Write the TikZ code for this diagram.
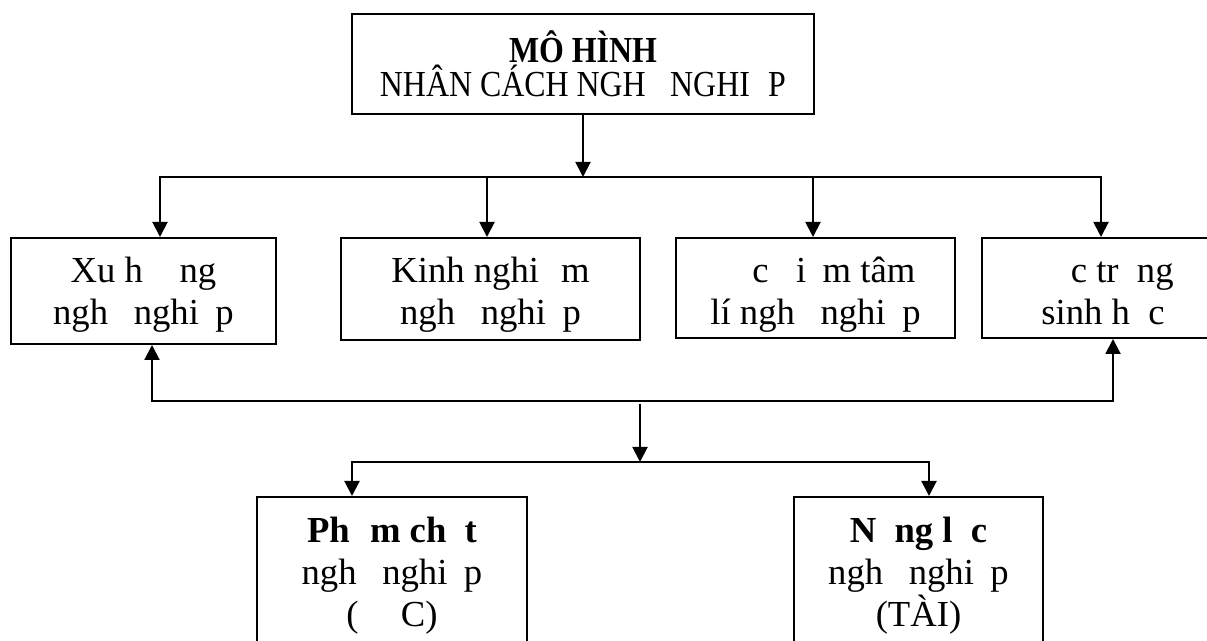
\documentclass[tikz,border=0pt]{standalone}
\usepackage{fontspec}
\setmainfont{Liberation Serif}
\newfontfamily\hepfont[FakeStretch=0.87]{Liberation Serif}
\usetikzlibrary{arrows.meta}
\newcommand{\gapw}[1]{\hspace*{#1em}}

\begin{document}
\begin{tikzpicture}[x=0.3pt,y=-0.3pt,line width=0.6pt,
  hop/.style={draw,align=center,inner sep=0pt,font=\fontsize{11}{12.6}\selectfont},
  mui/.style={-{Triangle[length=4.5pt,width=4.5pt]}},
  haimui/.style={{Triangle[length=4.5pt,width=4.5pt]}-{Triangle[length=4.5pt,width=4.5pt]}}]

  \useasboundingbox (0,0) rectangle (1207,641);
  \clip (0,0) rectangle (1207,641);

  % top box
  \node[hop,minimum width=138.6pt,minimum height=30pt,
    font={\hepfont\fontsize{11}{10.2}\selectfont\lineskiplimit=-\maxdimen}] (mohinh) at (583,64)
    {\textbf{MÔ HÌNH}\\NHÂN CÁCH NGH\gapw{0.45} NGHI\gapw{0.5}P};

  % second row
  \node[hop,minimum width=79.5pt,minimum height=31.8pt,text height=22.8pt,text depth=2.4pt] (xuhuong) at (143.5,291)
    {Xu h\gapw{1}ng\\ngh\gapw{0.45} nghi\gapw{0.45}p};
  \node[hop,minimum width=89.7pt,minimum height=30.6pt,text height=24pt,text depth=2.4pt] (kinhnghiem) at (490.5,289)
    {Kinh nghi\gapw{0.6}m\\ngh\gapw{0.45} nghi\gapw{0.45}p};
  \node[hop,minimum width=83.7pt,minimum height=30pt,text height=24.6pt,text depth=2.4pt] (dacdiem) at (815.5,288)
    {\gapw{1}c \gapw{0.5}i\gapw{0.45}m tâm\\lí ngh\gapw{0.45} nghi\gapw{0.45}p};
  \node[hop,minimum width=72.6pt,minimum height=30pt,text height=24.6pt,text depth=2.4pt] (dactrung) at (1103,288)
    {\gapw{1.05}c tr\gapw{0.5}ng\\sinh h\gapw{0.5}c};

  % bottom row
  \node[hop,minimum width=81pt,minimum height=47.4pt] (phamchat) at (392,576)
    {\textbf{Ph\gapw{0.55}m ch\gapw{0.5}t}\\ngh\gapw{0.45} nghi\gapw{0.45}p\\(\gapw{1.15}C)};
  \node[hop,minimum width=74.7pt,minimum height=47.4pt] (nangluc) at (918.5,576)
    {\textbf{N\gapw{0.5}ng l\gapw{0.5}c}\\ngh\gapw{0.45} nghi\gapw{0.45}p\\(TÀI)};

  % upper bus
  \coordinate (d1) at (160,177);
  \coordinate (d2) at (487,177);
  \coordinate (d3) at (813,177);
  \coordinate (d4) at (1101,177);
  \draw[mui] (mohinh.south) -- (mohinh.south |- d1);
  \draw[haimui] (d1 |- xuhuong.north) -- (d1) -- (d4) -- (d4 |- dactrung.north);
  \draw[mui] (d2) -- (d2 |- kinhnghiem.north);
  \draw[mui] (d3) -- (d3 |- dacdiem.north);

  % feedback line and lower bus
  \coordinate (f1) at (152,401);
  \coordinate (f4) at (1113,401);
  \draw[haimui] (f1 |- xuhuong.south) -- (f1) -- (f4) -- (f4 |- dactrung.south);
  \coordinate (g) at (640,404);
  \coordinate (h1) at (352,462);
  \coordinate (h2) at (929,462);
  \draw[mui] (g) -- (g |- h1);
  \draw[haimui] (h1 |- phamchat.north) -- (h1) -- (h2) -- (h2 |- nangluc.north);

\end{tikzpicture}
\end{document}
